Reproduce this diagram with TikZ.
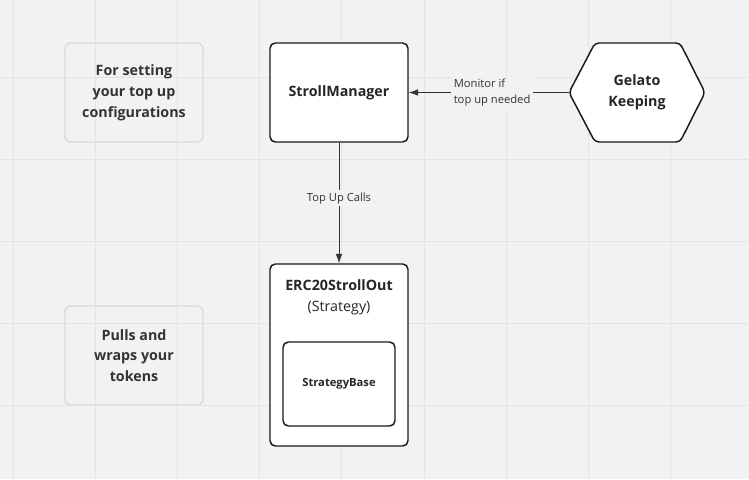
\documentclass[tikz,border=0pt]{standalone}
\usepackage{fontspec}
\setmainfont{Open Sans}
\usetikzlibrary{arrows.meta}
\definecolor{bgcol}{HTML}{F2F2F2}
\definecolor{gridcol}{HTML}{E4E4E4}
\definecolor{notecol}{HTML}{DADADA}
\definecolor{inkcol}{HTML}{333333}
\tikzset{
  notebox/.style = {draw=notecol, line width=1.1pt, rounded corners=4.5pt,
                    minimum width=103.5pt, minimum height=74.25pt, align=center,
                    text=inkcol, font=\fontsize{10.7}{15.6}\selectfont\bfseries},
  mainbox/.style = {draw=black!90, fill=white, line width=1.1pt, rounded corners=4pt,
                    minimum width=103.5pt, minimum height=74.25pt, align=center,
                    text=black!85, font=\fontsize{10.7}{15.6}\selectfont\bfseries},
  conn/.style    = {draw=inkcol, line width=0.75pt, -{Latex[length=7pt,width=5pt]}},
  connlabel/.style = {fill=bgcol, inner sep=2pt, text=inkcol,
                    font=\fontsize{8.4}{12}\selectfont}
}
\begin{document}
\begin{tikzpicture}[x=0.75pt, y=-0.75pt]
  % Draw background and grid
  \fill [bgcol] (0,0) rectangle (749,479);
  \useasboundingbox (0,0) rectangle (749,479);
  \foreach \gx in {13,95,177,259,341,424,506,588,670}
    \draw [gridcol, line width=0.75pt] (\gx,0) -- (\gx,479);
  \foreach \gy in {77,159,241,323,405}
    \draw [gridcol, line width=0.75pt] (0,\gy) -- (749,\gy);

  % Draw the two side notes
  \node [notebox] (setnote) at (134,92.5) {For setting\\your top up\\configurations};
  \node [notebox] (pullnote) at (134,355.5) {Pulls and\\wraps your\\tokens};

  % Draw the manager and the strategy boxes
  \node [mainbox] (manager) at (339,92.5) {StrollManager};
  \node [mainbox, minimum height=136.5pt] (strategy) at (339,355) {};
  \node [align=center, text=black!85, font=\fontsize{10.7}{15.6}\selectfont] (stratname)
    at (339,297.5) {\textbf{ERC20StrollOut}\\(Strategy)};
  \node [mainbox, minimum width=84pt, minimum height=63pt,
         font=\fontsize{8.4}{10}\selectfont\bfseries] (base) at (339,384) {StrategyBase};

  % Draw the keeper hexagon
  \draw [draw=black!90, fill=white, line width=1.1pt, rounded corners=3pt]
    (569,92.5) -- (595,43) -- (680,43) -- (705,92.5) -- (680,142) -- (595,142) -- cycle;
  \coordinate (gelatotip) at (569,92.5);
  \node [align=center, text=black!85, font=\fontsize{10.7}{15.6}\selectfont\bfseries]
    (gelato) at (637,92.5) {Gelato\\Keeping};

  % Draw the connectors
  \draw [conn] (gelatotip) -- (manager.east)
    node [connlabel, pos=0.48, align=left] (monitor) {Monitor if\\top up needed};
  \draw [conn] (manager.south) -- (strategy.north)
    node [connlabel, pos=0.46] (topup) {Top Up Calls};
\end{tikzpicture}
\end{document}
